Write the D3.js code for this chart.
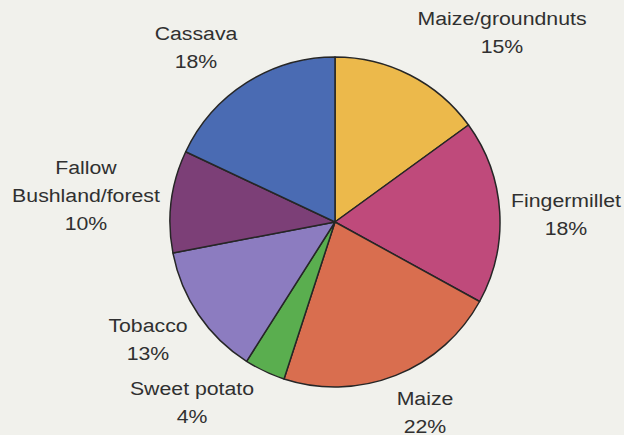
<!DOCTYPE html>
<html>
<head>
<meta charset="utf-8">
<script src="https://cdn.jsdelivr.net/npm/d3@7"></script>
<style>
  html, body { margin: 0; padding: 0; background: #f1f1ec; }
  svg { display: block; }
  text { font-family: "Liberation Sans", Arial, sans-serif; fill: #303030; }
</style>
</head>
<body>
<svg id="chart" width="624" height="435"></svg>
<script>
// Land use shares, clockwise from 12 o'clock
const categories = ["Maize/groundnuts", "Fingermillet", "Maize", "Sweet potato", "Tobacco", "Fallow\nBushland/forest", "Cassava"];
const shares = [15, 18, 22, 4, 13, 10, 18];
const colors = ["#ecb94b", "#bf4a7b", "#d96e4f", "#5aae4f", "#8c7cc0", "#7c3f77", "#4a6bb3"];

// Where each label block is centred (first line), in page pixels
const labelSpots = [[502, 18], [566, 200], [425, 398], [192, 388], [148, 325], [86, 167], [196, 33]];

const width = 624, height = 435;
const cx = 335, cy = 222, radius = 165;
const lineGap = 28;
const fontSize = 19, stretchX = 1.12;

const svg = d3.select("#chart");
svg.append("rect").attr("width", width).attr("height", height).attr("fill", "#f1f1ec");

const rows = categories.map((c, i) => ({ name: c, value: shares[i], color: colors[i], spot: labelSpots[i] }));

const pie = d3.pie().sort(null).value(d => d.value);
const arc = d3.arc().innerRadius(0).outerRadius(radius);

const g = svg.append("g").attr("transform", `translate(${cx},${cy})`);
g.selectAll("path")
  .data(pie(rows))
  .join("path")
  .attr("d", arc)
  .attr("fill", d => d.data.color)
  .attr("stroke", "#262626")
  .attr("stroke-width", 1.5)
  .attr("stroke-linejoin", "round");

const labels = svg.append("g");
rows.forEach(r => {
  const lines = r.name.split("\n").concat([r.value + "%"]);
  const t = labels.append("text")
    .attr("text-anchor", "middle")
    .attr("font-size", fontSize)
    .attr("transform", `translate(${r.spot[0]},${r.spot[1]}) scale(${stretchX},1)`);
  lines.forEach((ln, k) => {
    t.append("tspan")
      .attr("x", 0)
      .attr("y", k * lineGap)
      .attr("dy", "0.35em")
      .text(ln);
  });
});
</script>
</body>
</html>
